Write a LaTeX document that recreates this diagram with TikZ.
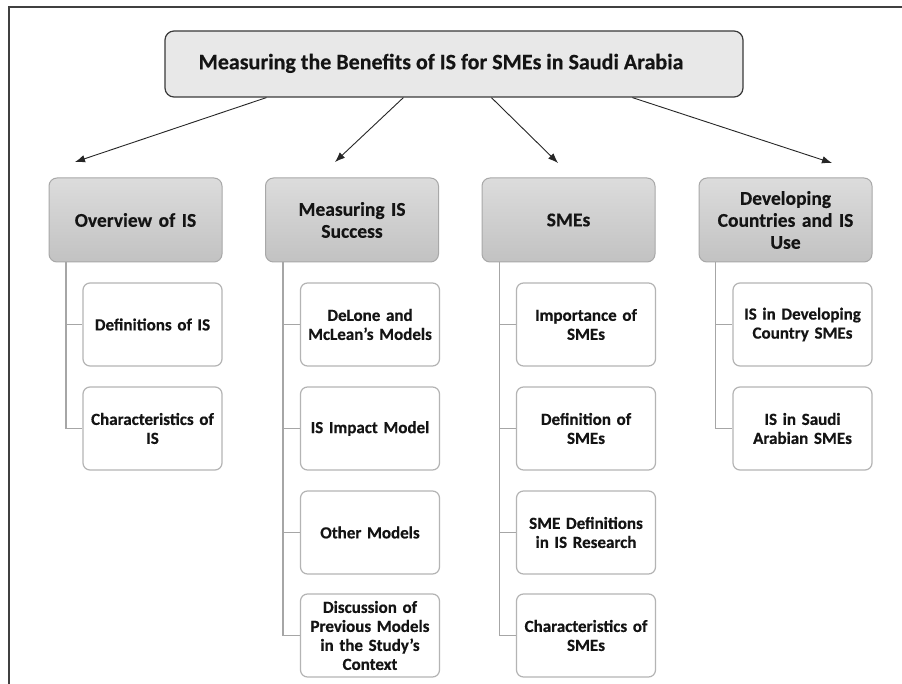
\documentclass[tikz,border=0pt]{standalone}
\usepackage{fontspec}
\setmainfont{Carlito}[BoldFeatures={FakeBold=0.4}]
\usetikzlibrary{arrows.meta}
\definecolor{frame}{HTML}{404040}
\definecolor{topfill}{HTML}{E8E8E8}
\definecolor{topline}{HTML}{3A3A3A}
\definecolor{secline}{HTML}{A8A8A8}
\definecolor{sectop}{HTML}{DCDCDC}
\definecolor{secbot}{HTML}{C2C2C2}
\definecolor{childline}{HTML}{B4B4B4}
\definecolor{connline}{HTML}{A6A6A6}
\definecolor{txt}{HTML}{141414}
\tikzset{
  topbox/.style={draw=topline, line width=1.2pt, fill=topfill, rounded corners=9pt,
    minimum width=578pt, minimum height=66pt, inner sep=0pt,
    font=\fontsize{22}{26}\selectfont\bfseries, text=txt},
  secbox/.style={draw=secline, line width=1pt, top color=sectop, bottom color=secbot,
    rounded corners=8pt, minimum width=173pt, minimum height=84pt, inner sep=0pt,
    text width=167pt, align=center, font=\fontsize{19.5}{22}\selectfont\bfseries, text=txt},
  childbox/.style={draw=childline, line width=1.2pt, fill=white, rounded corners=7pt,
    minimum width=139pt, minimum height=83pt, inner sep=0pt,
    text width=136pt, align=center, font=\fontsize{17}{19}\selectfont\bfseries, text=txt},
  conn/.style={draw=connline, line width=1.4pt},
  arr/.style={draw=black!85, line width=0.9pt, -{Latex[length=10pt,width=7.5pt]}}
}
\begin{document}
\begin{tikzpicture}[x=1pt,y=-1pt]
\useasboundingbox (0,0) rectangle (902,684);
\fill[white] (0,0) rectangle (902,684);
\draw[frame, line width=2pt] (8.5,684) -- (8.5,7.5) -- (902,7.5);

\node[topbox] (top) at (454,64) {\hspace*{-26pt}\raisebox{5pt}{Measuring the Benefits of IS for SMEs in Saudi Arabia}};

\node[secbox] (ov) at (135.5,220) {Overview of IS};
\node[secbox] (ms) at (352,220) {Measuring IS\\Success};
\node[secbox] (sm) at (568.5,220) {SMEs};
\node[secbox] (dc) at (785.5,220) {Developing\\Countries and IS\\Use};

\coordinate (a1) at (75,162);
\coordinate (a2) at (335,162);
\coordinate (a3) at (558,163);
\coordinate (a4) at (832,163);
\draw[arr] ([xshift=102pt]top.south west) -- (a1);
\draw[arr] ([xshift=239pt]top.south west) -- (a2);
\draw[arr] ([xshift=327pt]top.south west) -- (a3);
\draw[arr] ([xshift=468pt]top.south west) -- (a4);

\node[childbox] (ov1) at (152.5,324.5) {Definitions of IS};
\node[childbox] (ov2) at (152.5,428.5) {Characteristics of\\IS};

\node[childbox] (ms1) at (370,324.5) {DeLone and\\McLean’s Models};
\node[childbox] (ms2) at (370,428.5) {IS Impact Model};
\node[childbox] (ms3) at (370,532.5) {Other Models};
\node[childbox] (ms4) at (370,635.5) {Discussion of\\Previous Models\\in the Study’s\\Context};

\node[childbox] (sm1) at (586,324.5) {Importance of\\SMEs};
\node[childbox] (sm2) at (586,428.5) {Definition of\\SMEs};
\node[childbox] (sm3) at (586,532.5) {SME Definitions\\in IS Research};
\node[childbox] (sm4) at (586,635.5) {Characteristics of\\SMEs};

\node[childbox] (dc1) at (802.5,324.5) {IS in Developing\\Country SMEs};
\node[childbox] (dc2) at (802.5,428.5) {IS in Saudi\\Arabian SMEs};

\foreach \c in {ov1,ov2}{\draw[conn] ([xshift=17.5pt]ov.south west) |- (\c.west);}
\foreach \c in {ms1,ms2,ms3,ms4}{\draw[conn] ([xshift=18pt]ms.south west) |- (\c.west);}
\foreach \c in {sm1,sm2,sm3,sm4}{\draw[conn] ([xshift=18pt]sm.south west) |- (\c.west);}
\foreach \c in {dc1,dc2}{\draw[conn] ([xshift=17pt]dc.south west) |- (\c.west);}
\end{tikzpicture}
\end{document}
